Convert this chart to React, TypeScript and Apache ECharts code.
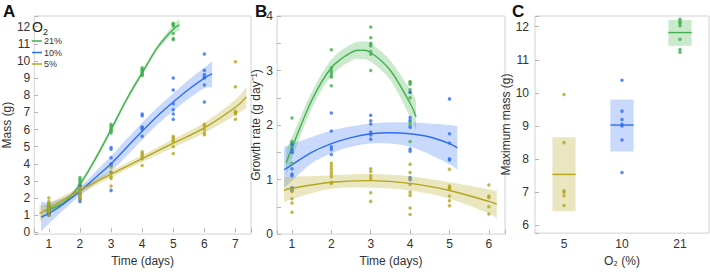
import React, { useEffect, useRef } from 'react';
import * as echarts from 'echarts';

const GREEN = '#42b04d';
const BLUE = '#2e6ef0';
const OLIVE = '#b3a61c';
const GREEN_BAND = 'rgba(66,176,77,0.28)';
const BLUE_BAND = 'rgba(46,110,240,0.26)';
const OLIVE_BAND = 'rgba(179,166,28,0.28)';
const FONT = 'Liberation Sans, Arial, sans-serif';

// ---------- Panel A: mass over time ----------
const daysA21 = [1, 2, 3, 4, 5];
const mass21 = [
  [1.7, 1.6, 1.5, 1.4, 1.3, 1.2, 1.1, 1.05],
  [3.2, 3.1, 3.0, 2.9, 2.8, 2.75, 2.7],
  [6.3, 6.2, 6.1, 6.0, 5.95, 5.9, 5.8],
  [9.6, 9.5, 9.45, 9.35, 9.3, 9.2, 9.15],
  [12.2, 12.15, 12.1, 12.05, 11.6, 11.3, 11.25],
];
const daysA10 = [1, 2, 3, 4, 5, 6];
const mass10 = [
  [1.5, 1.4, 1.3, 1.2, 1.1, 1.05, 1.0],
  [2.7, 2.5, 2.3, 2.2, 2.0, 1.9, 1.8],
  [4.95, 4.85, 4.35, 4.0, 3.9, 3.5, 2.45],
  [6.9, 6.8, 6.15, 6.1, 6.0, 5.6],
  [9.0, 8.3, 7.5, 7.15, 6.9, 6.6],
  [10.4, 9.45, 9.2, 9.05, 9.0, 8.6, 7.6],
];
const daysA5 = [1, 2, 3, 4, 5, 6, 7];
const mass5 = [
  [2.0, 1.8, 1.65, 1.5, 1.4, 1.3, 1.2, 1.0],
  [2.6, 2.45, 2.3, 2.2, 2.1, 1.95],
  [3.8, 3.5, 3.25, 3.15, 2.7],
  [4.7, 4.6, 4.5, 4.4, 4.3, 3.9],
  [5.6, 5.5, 5.4, 5.3, 5.0, 4.6],
  [6.3, 6.2, 6.0, 5.8, 5.7],
  [9.95, 8.5, 7.05, 7.0, 6.9, 6.6],
];

// fitted curves and confidence bands, panel A
const fitA21X = [0.9, 1.5, 2, 2.5, 3, 3.5, 4, 4.5, 5, 5.2];
const fitA21 = [1.25, 1.75, 2.8, 4.3, 6.0, 7.75, 9.3, 10.8, 11.85, 12.1];
const fitA21Lo = [0.95, 1.6, 2.65, 4.15, 5.85, 7.6, 9.15, 10.65, 11.6, 11.75];
const fitA21Hi = [1.55, 1.9, 2.95, 4.45, 6.15, 7.9, 9.45, 10.95, 12.1, 12.45];

const fitA10X = [0.75, 1, 1.5, 2, 2.5, 3, 3.5, 4, 4.5, 5, 5.5, 6, 6.25];
const fitA10 = [0.9, 1.1, 1.7, 2.4, 3.2, 4.0, 4.95, 5.9, 6.8, 7.6, 8.35, 9.0, 9.25];
const fitA10Lo = [0.05, 0.5, 1.35, 2.15, 2.85, 3.55, 4.45, 5.4, 6.3, 7.1, 7.8, 8.4, 8.45];
const fitA10Hi = [1.8, 1.75, 2.05, 2.65, 3.55, 4.45, 5.45, 6.4, 7.3, 8.1, 8.9, 9.6, 10.0];

const fitA5X = [0.7, 1, 2, 3, 4, 5, 6, 7, 7.35];
const fitA5 = [1.1, 1.4, 2.45, 3.4, 4.3, 5.2, 6.1, 7.3, 7.9];
const fitA5Lo = [0.6, 1.1, 2.25, 3.2, 4.1, 4.95, 5.8, 6.85, 7.25];
const fitA5Hi = [1.6, 1.7, 2.65, 3.6, 4.5, 5.45, 6.4, 7.75, 8.5];

// ---------- Panel B: growth rate ----------
const daysB21 = [1, 2, 3, 4];
const rate21 = [
  [2.13, 1.7, 1.65, 1.6, 1.5, 1.3],
  [3.38, 3.05, 3.0, 2.95, 2.9, 2.88, 2.72],
  [3.8, 3.6, 3.5, 3.48, 3.45, 3.35, 3.3, 3.0],
  [2.8, 2.78, 2.75, 2.65, 2.6, 2.5, 2.05, 2.0, 1.7],
];
const daysB10 = [1, 2, 3, 4, 5];
const rate10 = [
  [1.65, 1.55, 1.5, 1.2, 1.1, 1.07, 0.85, 0.8],
  [2.22, 1.89, 1.6, 1.55, 1.46],
  [2.18, 2.08, 2.02, 1.87, 1.82, 1.74],
  [2.6, 2.14, 2.09, 1.96, 1.56, 1.52, 1.04, 1.0],
  [2.48, 1.84, 1.67, 1.38, 1.36],
];
const daysB5 = [1, 2, 3, 4, 5, 6];
const rate5 = [
  [0.83, 0.78, 0.65, 0.57, 0.4],
  [1.3, 1.25, 1.2, 1.15, 1.1, 1.05, 0.95, 0.93],
  [1.2, 1.15, 1.07, 1.02, 0.76, 0.6],
  [1.28, 1.13, 1.02, 0.91, 0.77, 0.71, 0.48, 0.36],
  [1.19, 0.88, 0.85, 0.83, 0.7, 0.61, 0.52],
  [0.9, 0.7, 0.67, 0.5, 0.37],
];

const fitB21X = [0.85, 1, 1.5, 2, 2.5, 2.75, 3, 3.5, 4, 4.15];
const fitB21 = [1.3, 1.58, 2.45, 3.05, 3.33, 3.37, 3.33, 3.0, 2.4, 2.15];
const fitB21Lo = [1.05, 1.38, 2.3, 2.9, 3.18, 3.21, 3.16, 2.82, 2.15, 1.9];
const fitB21Hi = [1.55, 1.78, 2.6, 3.2, 3.48, 3.53, 3.5, 3.18, 2.65, 2.45];

const fitB10X = [0.8, 1, 1.5, 2, 2.5, 3, 3.5, 4, 4.5, 5, 5.2];
const fitB10 = [1.18, 1.27, 1.5, 1.66, 1.77, 1.84, 1.86, 1.84, 1.78, 1.66, 1.58];
const fitB10Lo = [0.85, 0.98, 1.3, 1.48, 1.6, 1.66, 1.66, 1.6, 1.46, 1.28, 1.18];
const fitB10Hi = [1.6, 1.65, 1.78, 1.9, 1.98, 2.03, 2.05, 2.05, 2.03, 2.0, 1.98];

const fitB5X = [0.8, 1, 2, 3, 4, 5, 6, 6.2];
const fitB5 = [0.8, 0.84, 0.95, 0.98, 0.93, 0.8, 0.6, 0.55];
const fitB5Lo = [0.58, 0.64, 0.83, 0.85, 0.8, 0.65, 0.38, 0.28];
const fitB5Hi = [1.05, 1.05, 1.08, 1.1, 1.06, 0.95, 0.82, 0.8];

// ---------- Panel C: maximum mass ----------
const o2Levels = ['5', '10', '21'];
const maxMass = [
  [9.95, 8.5, 7.05, 7.0, 6.9, 6.6],
  [10.38, 9.45, 9.2, 9.05, 9.0, 8.58, 7.6],
  [12.22, 12.15, 12.1, 12.03, 11.62, 11.31, 11.23],
];
const boxLo = [6.43, 8.23, 11.42];
const boxHi = [8.66, 9.8, 12.2];
const boxMid = [7.54, 9.03, 11.82];

const legendLabels = ['21%', '10%', '5%'];

function points(days: number[], groups: number[][]) {
  return days.flatMap((d, i) => groups[i].map((v) => [d, v]));
}

// Catmull-Rom → cubic bezier segments through pixel points
function curveSegs(p: number[][]) {
  let s = '';
  for (let i = 0; i < p.length - 1; i++) {
    const p0 = p[i - 1] || p[i];
    const p1 = p[i];
    const p2 = p[i + 1];
    const p3 = p[i + 2] || p2;
    const c1x = p1[0] + (p2[0] - p0[0]) / 6;
    const c1y = p1[1] + (p2[1] - p0[1]) / 6;
    const c2x = p2[0] - (p3[0] - p1[0]) / 6;
    const c2y = p2[1] - (p3[1] - p1[1]) / 6;
    s += ` C${c1x},${c1y} ${c2x},${c2y} ${p2[0]},${p2[1]}`;
  }
  return s;
}

function fitSeries(x: number[], mid: number[], lo: number[], hi: number[], color: string, band: string, ai: number) {
  const data = x.map((d, i) => [d, lo[i], hi[i], mid[i]]);
  return [
    {
      type: 'custom', xAxisIndex: ai, yAxisIndex: ai, silent: true, z: 1, clip: true,
      data, encode: { x: 0, y: [1, 2] },
      renderItem: (params: any, api: any) => {
        if (params.dataIndex !== 0) return null;
        const up = x.map((d, i) => api.coord([d, hi[i]]));
        const dn = x.map((d, i) => api.coord([d, lo[i]])).reverse();
        const pathData = `M${up[0][0]},${up[0][1]}` + curveSegs(up) + ` L${dn[0][0]},${dn[0][1]}` + curveSegs(dn) + ' Z';
        return { type: 'path', shape: { pathData }, style: { fill: band, stroke: 'none' } };
      },
    },
    {
      type: 'custom', xAxisIndex: ai, yAxisIndex: ai, silent: true, z: 3, clip: true,
      data, encode: { x: 0, y: [3] },
      renderItem: (params: any, api: any) => {
        if (params.dataIndex !== 0) return null;
        const m = x.map((d, i) => api.coord([d, mid[i]]));
        const pathData = `M${m[0][0]},${m[0][1]}` + curveSegs(m);
        return { type: 'path', shape: { pathData }, style: { fill: 'none', stroke: color, lineWidth: 1.4 } };
      },
    },
  ];
}

function scatter(data: number[][], color: string, ai: number) {
  return { type: 'scatter', xAxisIndex: ai, yAxisIndex: ai, data, symbolSize: 3.5, itemStyle: { color }, z: 4, silent: true };
}

const intLabel = (v: number) => (Math.abs(v - Math.round(v)) < 1e-6 ? String(Math.round(v)) : '');

function valueAxis(extra: any) {
  return {
    type: 'value',
    axisLine: { show: false },
    splitLine: { show: false },
    axisTick: { show: true, inside: true, length: 4, lineStyle: { color: '#b5b5b5' } },
    nameLocation: 'middle',
    nameTextStyle: { color: '#333', fontSize: 12, fontFamily: FONT },
    ...extra,
  };
}

const lbl = (margin: number) => ({ color: '#333', fontSize: 12, fontFamily: FONT, formatter: intLabel, margin });

export default function App() {
  const ref = useRef<HTMLDivElement>(null);
  useEffect(() => {
    if (!ref.current) return;
    const chart = echarts.init(ref.current, undefined, { renderer: 'svg' });
    const gridBase = { show: true, borderColor: '#d2d2d2', borderWidth: 1, backgroundColor: 'transparent' };
    const colors = [OLIVE, BLUE, GREEN];
    const bands = [OLIVE_BAND, BLUE_BAND, GREEN_BAND];
    const legendColors = [GREEN, BLUE, OLIVE];
    const option: any = {
      animation: false,
      textStyle: { fontFamily: FONT },
      grid: [
        { ...gridBase, left: 26, top: 16, width: 225, height: 225 },
        { ...gridBase, left: 277, top: 16, width: 228, height: 225 },
        { ...gridBase, left: 535, top: 16, width: 174, height: 223 },
      ],
      xAxis: [
        valueAxis({ gridIndex: 0, min: 0.53, max: 7.5, minInterval: 1, maxInterval: 1, splitNumber: 7, name: 'Time (days)', nameGap: 18, axisLabel: lbl(4) }),
        valueAxis({ gridIndex: 1, min: 0.62, max: 6.41, minInterval: 1, maxInterval: 1, splitNumber: 6, name: 'Time (days)', nameGap: 18, axisLabel: lbl(4) }),
        {
          type: 'category', gridIndex: 2, data: o2Levels, boundaryGap: true,
          axisLine: { show: false }, splitLine: { show: false },
          axisTick: { show: false },
          axisLabel: { color: '#333', fontSize: 12, fontFamily: FONT, margin: 5 },
          name: 'O₂ (%)', nameLocation: 'middle', nameGap: 18,
          nameTextStyle: { color: '#333', fontSize: 12, fontFamily: FONT },
        },
      ],
      yAxis: [
        valueAxis({ gridIndex: 0, min: -0.1, max: 12.62, minInterval: 1, maxInterval: 1, splitNumber: 12, name: 'Mass (g)', nameGap: 11, axisLabel: lbl(4) }),
        valueAxis({ gridIndex: 1, min: 0, max: 4, interval: 0.5, name: 'Growth rate (g day⁻¹)', nameGap: 11, axisLabel: lbl(4) }),
        valueAxis({ gridIndex: 2, min: 5.77, max: 12.32, minInterval: 1, maxInterval: 1, splitNumber: 7, name: 'Maximum mass (g)', nameGap: 14, axisLabel: lbl(6) }),
      ],
      graphic: {
        elements: [
          { type: 'text', left: 3, top: 3, style: { text: 'A', font: `bold 17px ${FONT}`, fill: '#111' } },
          { type: 'text', left: 255, top: 3, style: { text: 'B', font: `bold 17px ${FONT}`, fill: '#111' } },
          { type: 'text', left: 512, top: 3, style: { text: 'C', font: `bold 17px ${FONT}`, fill: '#111' } },
          {
            type: 'group', left: 32, top: 18,
            children: [
              {
                type: 'text', x: 0, y: 0,
                style: {
                  text: 'O{s|2}', font: `14px ${FONT}`, fill: '#222', lineHeight: 18,
                  rich: { s: { fontSize: 9, fontFamily: FONT, fill: '#222', verticalAlign: 'bottom', lineHeight: 18 } },
                },
              },
            ],
          },
          ...legendLabels.flatMap((lab, i) => [
            { type: 'line', shape: { x1: 32, y1: 41 + i * 11.5, x2: 42, y2: 41 + i * 11.5 }, style: { stroke: legendColors[i], lineWidth: 1.5 } },
            { type: 'text', x: 44, y: 41 + i * 11.5, style: { text: lab, font: `9px ${FONT}`, fill: '#333', verticalAlign: 'middle' } },
          ]),
        ],
      },
      series: [
        ...fitSeries(fitA21X, fitA21, fitA21Lo, fitA21Hi, GREEN, GREEN_BAND, 0),
        ...fitSeries(fitA10X, fitA10, fitA10Lo, fitA10Hi, BLUE, BLUE_BAND, 0),
        ...fitSeries(fitA5X, fitA5, fitA5Lo, fitA5Hi, OLIVE, OLIVE_BAND, 0),
        scatter(points(daysA21, mass21), GREEN, 0),
        scatter(points(daysA10, mass10), BLUE, 0),
        scatter(points(daysA5, mass5), OLIVE, 0),
        ...fitSeries(fitB21X, fitB21, fitB21Lo, fitB21Hi, GREEN, GREEN_BAND, 1),
        ...fitSeries(fitB10X, fitB10, fitB10Lo, fitB10Hi, BLUE, BLUE_BAND, 1),
        ...fitSeries(fitB5X, fitB5, fitB5Lo, fitB5Hi, OLIVE, OLIVE_BAND, 1),
        scatter(points(daysB21, rate21), GREEN, 1),
        scatter(points(daysB10, rate10), BLUE, 1),
        scatter(points(daysB5, rate5), OLIVE, 1),
        {
          type: 'custom', xAxisIndex: 2, yAxisIndex: 2, silent: true, z: 1,
          data: boxLo.map((lo, i) => [i, lo, boxHi[i], boxMid[i]]),
          encode: { x: 0, y: [1, 2, 3] },
          renderItem: (params: any, api: any) => {
            const i = api.value(0);
            const top = api.coord([i, api.value(2)]);
            const bot = api.coord([i, api.value(1)]);
            const mid = api.coord([i, api.value(3)]);
            const w = api.size([1, 0])[0] * 0.4;
            return {
              type: 'group',
              children: [
                { type: 'rect', shape: { x: top[0] - w / 2, y: top[1], width: w, height: bot[1] - top[1] }, style: { fill: bands[params.dataIndex] } },
                { type: 'line', shape: { x1: mid[0] - w / 2, y1: mid[1], x2: mid[0] + w / 2, y2: mid[1] }, style: { stroke: colors[params.dataIndex], lineWidth: 1.4 } },
              ],
            };
          },
        },
        ...maxMass.map((vals, i) => ({
          type: 'scatter', xAxisIndex: 2, yAxisIndex: 2, silent: true, z: 4,
          data: vals.map((v) => [i, v]), symbolSize: 3.5, itemStyle: { color: colors[i] },
        })),
      ],
    };
    chart.setOption(option);
    return () => chart.dispose();
  }, []);
  return <div ref={ref} style={{ position: 'absolute', left: 0, top: 0, width: 710, height: 272 }} />;
}
